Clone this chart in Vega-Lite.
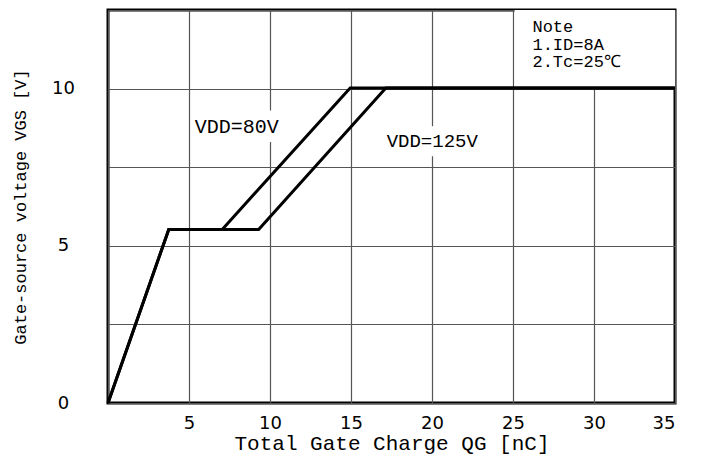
{
  "$schema": "https://vega.github.io/schema/vega-lite/v6.json",
  "width": 567,
  "height": 393,
  "autosize": {"type": "none"},
  "padding": {"left": 108, "top": 10, "right": 27, "bottom": 61},
  "background": "white",
  "config": {
    "view": {"stroke": "black", "strokeWidth": 3},
    "font": "Liberation Mono"
  },
  "datasets": {
    "curves": [
      {"series": "80V", "ord": 0, "q": 0, "v": 0},
      {"series": "80V", "ord": 1, "q": 3.75, "v": 5.52},
      {"series": "80V", "ord": 2, "q": 7.05, "v": 5.52},
      {"series": "80V", "ord": 3, "q": 14.95, "v": 10.02},
      {"series": "80V", "ord": 4, "q": 35, "v": 10.02},
      {"series": "125V", "ord": 0, "q": 0, "v": 0},
      {"series": "125V", "ord": 1, "q": 3.75, "v": 5.52},
      {"series": "125V", "ord": 2, "q": 9.3, "v": 5.52},
      {"series": "125V", "ord": 3, "q": 17.15, "v": 10.02},
      {"series": "125V", "ord": 4, "q": 35, "v": 10.02}
    ],
    "masks": [
      {"x": 25.1, "x2": 35, "y": 10.05, "y2": 12.5},
      {"x": 5.3, "x2": 11.8, "y": 8.3, "y2": 9.3},
      {"x": 17.1, "x2": 24.6, "y": 7.85, "y2": 8.8}
    ],
    "labels": [
      {"x": 5.35, "y": 8.78, "t": "VDD=80V", "s": 20},
      {"x": 17.2, "y": 8.33, "t": "VDD=125V", "s": 19},
      {"x": 26.2, "y": 11.95, "t": "Note", "s": 17},
      {"x": 26.2, "y": 11.4, "t": "1.ID=8A", "s": 17},
      {"x": 26.2, "y": 10.84, "t": "2.Tc=25℃", "s": 17}
    ]
  },
  "layer": [
    {
      "data": {"name": "masks"},
      "mark": {"type": "rect", "fill": "white", "stroke": null},
      "encoding": {
        "x": {
          "field": "x", "type": "quantitative",
          "scale": {"domain": [0, 35], "nice": false, "zero": false},
          "axis": {
            "values": [0, 5, 10, 15, 20, 25, 30, 35],
            "labelExpr": "datum.value == 0 ? '' : datum.label",
            "title": "Total Gate Charge QG [nC]",
            "titleFont": "Liberation Mono",
            "titleFontSize": 21,
            "titleFontWeight": "normal",
            "titleColor": "black",
            "titlePadding": 0,
            "labelFont": "DejaVu Sans",
            "labelFontSize": 18,
            "labelColor": "black",
            "labelPadding": 11,
            "ticks": false,
            "domain": false,
            "grid": true,
            "gridColor": "#555555",
            "gridWidth": 1.2,
            "gridOpacity": 1
          }
        },
        "x2": {"field": "x2"},
        "y": {
          "field": "y", "type": "quantitative",
          "scale": {"domain": [0, 12.5], "nice": false, "zero": false},
          "axis": {
            "values": [0, 2.5, 5, 7.5, 10, 12.5],
            "labelExpr": "datum.value % 5 == 0 ? datum.label : ''",
            "title": "Gate-source voltage VGS [V]",
            "titleFont": "Liberation Mono",
            "titleFontSize": 17,
            "titleFontWeight": "normal",
            "titleColor": "black",
            "titlePadding": 22,
            "labelFont": "DejaVu Sans",
            "labelFontSize": 18,
            "labelColor": "black",
            "labelPadding": 45,
            "labelAlign": "center",
            "ticks": false,
            "domain": false,
            "grid": true,
            "gridColor": "#555555",
            "gridWidth": 1.2,
            "gridOpacity": 1
          }
        },
        "y2": {"field": "y2"}
      }
    },
    {
      "data": {"name": "curves"},
      "mark": {"type": "line", "color": "black", "strokeWidth": 3, "strokeJoin": "miter"},
      "encoding": {
        "x": {"field": "q", "type": "quantitative"},
        "y": {"field": "v", "type": "quantitative"},
        "detail": {"field": "series"},
        "order": {"field": "ord"}
      }
    },
    {
      "data": {"name": "labels"},
      "mark": {"type": "text", "align": "left", "baseline": "middle", "color": "black", "font": "Liberation Mono"},
      "encoding": {
        "x": {"field": "x", "type": "quantitative"},
        "y": {"field": "y", "type": "quantitative"},
        "text": {"field": "t"},
        "size": {"field": "s", "type": "quantitative", "scale": null}
      }
    }
  ]
}
